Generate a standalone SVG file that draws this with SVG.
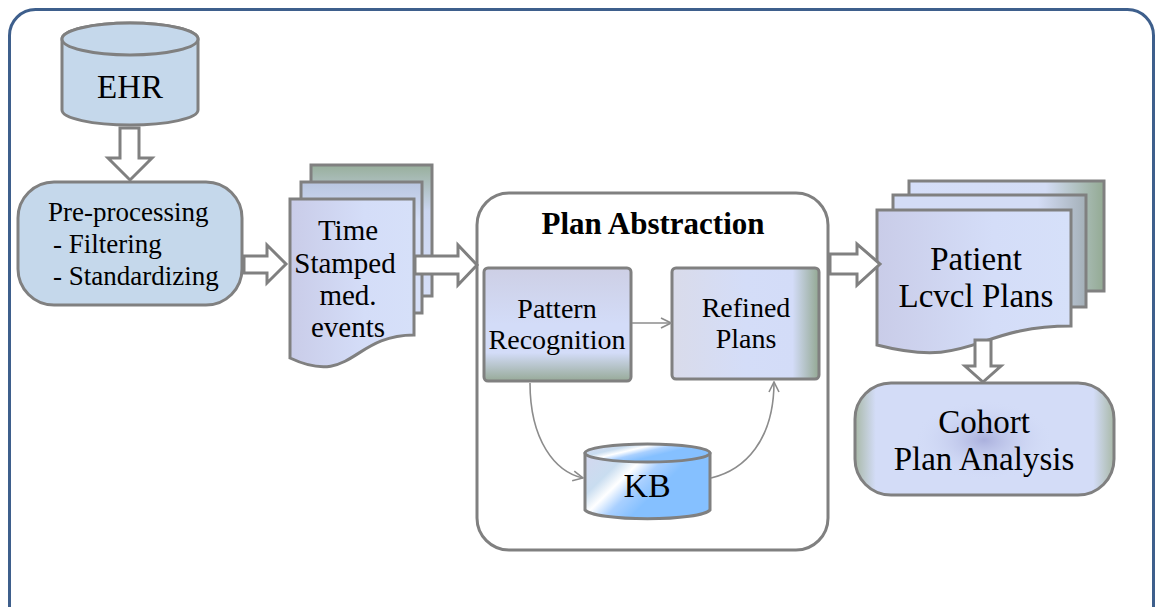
<svg xmlns="http://www.w3.org/2000/svg" width="1156" height="607" viewBox="0 0 1156 607">
<defs>
<style>
.t{font-family:"Liberation Serif","Times New Roman",serif;fill:#000;text-anchor:middle}
.box{stroke:#808080;stroke-width:3}
.hol{fill:#fff;stroke:#808080;stroke-width:3;stroke-linejoin:miter}
.thin{fill:none;stroke:#8c8c8c;stroke-width:1.6}
</style>
<linearGradient id="gBack" x1="0" y1="0" x2="0" y2="1"><stop offset="0" stop-color="#98AF9C"/><stop offset="0.35" stop-color="#CBD6F0"/><stop offset="1" stop-color="#D6DFF8"/></linearGradient>
<linearGradient id="gMid" x1="0" y1="0" x2="0" y2="1"><stop offset="0" stop-color="#B9C6E0"/><stop offset="0.3" stop-color="#D5DFF8"/><stop offset="1" stop-color="#D6DFF8"/></linearGradient>
<linearGradient id="gFront" x1="0" y1="0" x2="1" y2="0"><stop offset="0" stop-color="#C9CCE8"/><stop offset="0.6" stop-color="#D4DDF8"/><stop offset="1" stop-color="#D6E0F9"/></linearGradient>
<linearGradient id="gPat" x1="0" y1="0" x2="0" y2="1"><stop offset="0" stop-color="#CDCFE5"/><stop offset="0.5" stop-color="#D3DCF8"/><stop offset="0.75" stop-color="#D3DCF8"/><stop offset="1" stop-color="#97AA98"/></linearGradient>
<linearGradient id="gRef" x1="0" y1="0" x2="1" y2="0"><stop offset="0" stop-color="#D9DBEA"/><stop offset="0.5" stop-color="#D4DDF8"/><stop offset="0.82" stop-color="#D3DCF8"/><stop offset="1" stop-color="#93A892"/></linearGradient>
<linearGradient id="gPBack" x1="0" y1="0" x2="1" y2="0"><stop offset="0" stop-color="#D5DEF8"/><stop offset="0.7" stop-color="#D3DCF5"/><stop offset="1" stop-color="#93AA93"/></linearGradient>
<linearGradient id="gPMid" x1="0" y1="0" x2="1" y2="0"><stop offset="0" stop-color="#D3DCF6"/><stop offset="0.75" stop-color="#D3DCF5"/><stop offset="1" stop-color="#A4B0B8"/></linearGradient>
<linearGradient id="gKB" x1="0" y1="0" x2="1" y2="0.6"><stop offset="0" stop-color="#D6D6EE"/><stop offset="0.3" stop-color="#C9DDF0"/><stop offset="0.42" stop-color="#FFFFFF"/><stop offset="0.55" stop-color="#A9D0FF"/><stop offset="0.7" stop-color="#85C0FF"/><stop offset="1" stop-color="#85C0FF"/></linearGradient>
<linearGradient id="gCoh" x1="0" y1="0" x2="1" y2="0"><stop offset="0" stop-color="#A9B9A8"/><stop offset="0.08" stop-color="#D3DCF7"/><stop offset="0.92" stop-color="#D3DCF7"/><stop offset="1" stop-color="#A9B9A8"/></linearGradient>
<radialGradient id="gCohC" cx="0.5" cy="0.5" r="0.5"><stop offset="0" stop-color="#AAB0DD"/><stop offset="1" stop-color="#D3DCF7" stop-opacity="0"/></radialGradient>
<marker id="ah" viewBox="0 0 12 12" refX="11" refY="6" markerWidth="12" markerHeight="12" markerUnits="userSpaceOnUse" orient="auto"><path d="M1,1 L11,6 L1,11" fill="none" stroke="#8c8c8c" stroke-width="1.6"/></marker>
</defs>
<rect width="1156" height="607" fill="#fff"/>
<rect id="frame" x="9.5" y="9.5" width="1144" height="640" rx="26" fill="#fff" stroke="#3E5F8C" stroke-width="3"/>

<g id="planabstraction">
<rect class="box" x="477" y="193" width="351" height="357" rx="32" fill="#fff"/>
<text class="t" x="653" y="234" font-size="31" font-weight="bold">Plan Abstraction</text>
</g>

<g id="ehr">
<path class="box" fill="#C5D8EB" d="M62,39 L62,110 A68,15 0 0 0 198,110 L198,39 A68,16 0 0 0 62,39 Z"/>
<ellipse class="box" cx="130" cy="39" rx="68" ry="16" fill="#C5D8EB"/>
<text class="t" x="130" y="98" font-size="33">EHR</text>
</g>

<g id="preprocessing">
<rect class="box" x="18" y="182" width="224" height="123" rx="36" fill="#C5D8EB"/>
<text class="t" x="48" y="221" font-size="27" style="text-anchor:start">Pre-processing</text>
<text class="t" x="53" y="253" font-size="27" style="text-anchor:start">- Filtering</text>
<text class="t" x="53" y="285" font-size="27" style="text-anchor:start">- Standardizing</text>
</g>

<g id="timestamped">
<rect class="box" x="311" y="165" width="121" height="131" fill="url(#gBack)"/>
<rect class="box" x="301" y="182" width="121" height="131" fill="url(#gMid)"/>
<path class="box" fill="url(#gFront)" d="M290,199 L414,199 L414,335 C352,335 352,387 290,358 Z"/>
<text class="t" x="348" y="240" font-size="29">Time</text>
<text class="t" x="345" y="273" font-size="29">Stamped</text>
<text class="t" x="348" y="305" font-size="29">med.</text>
<text class="t" x="348" y="337" font-size="29">events</text>
</g>

<g id="pattern">
<rect class="box" x="484" y="268" width="147" height="113" rx="4" fill="url(#gPat)"/>
<text class="t" x="557" y="318" font-size="28">Pattern</text>
<text class="t" x="557" y="349" font-size="28">Recognition</text>
</g>

<g id="refined">
<rect class="box" x="672" y="268" width="147" height="111" rx="4" fill="url(#gRef)"/>
<text class="t" x="746" y="317" font-size="28">Refined</text>
<text class="t" x="746" y="348" font-size="28">Plans</text>
</g>

<g id="kb">
<path class="box" fill="url(#gKB)" d="M585,453 L585,510 A63,10 0 0 0 710,510 L710,453 A63,9 0 0 0 585,453 Z"/>
<ellipse class="box" cx="647.5" cy="453" rx="62.5" ry="9" fill="url(#gKB)"/>
<text class="t" x="647" y="497" font-size="34">KB</text>
</g>

<g id="patientplans">
<rect class="box" x="909" y="181" width="195" height="110" fill="url(#gPBack)"/>
<rect class="box" x="893" y="195" width="193" height="112" fill="url(#gPMid)"/>
<path class="box" fill="url(#gFront)" d="M877,210 L1071,210 L1071,326 C974,326 974,370 877,345 Z"/>
<text class="t" x="976" y="270" font-size="33">Patient</text>
<text class="t" x="976" y="307" font-size="33">Lcvcl Plans</text>
</g>

<g id="cohort">
<rect class="box" x="855" y="383" width="259" height="112" rx="36" fill="url(#gCoh)"/>
<ellipse cx="984" cy="440" rx="70" ry="40" fill="url(#gCohC)"/>
<text class="t" x="984" y="433" font-size="33">Cohort</text>
<text class="t" x="984" y="470" font-size="33">Plan Analysis</text>
</g>

<g id="connectors">
<polygon class="hol" points="120,128 139,128 139,158 152,158 130,180 108,158 120,158"/>
<polygon class="hol" points="244,256 267,256 267,245 286,264 267,283 267,273 244,273"/>
<polygon class="hol" points="415,256 458,256 458,245 477,265 458,285 458,274 415,274"/>
<polygon class="hol" points="830,254 857,254 857,244 880,264 857,285 857,274 830,274"/>
<polygon class="hol" points="975,340 991,340 991,366 1001,366 983,382 965,366 975,366"/>
<path class="thin" d="M632,323 L671,323" marker-end="url(#ah)"/>
<path class="thin" d="M530,383 C530,440 555,472 583,478" marker-end="url(#ah)"/>
<path class="thin" d="M711,478 C745,470 774,440 774,382" marker-end="url(#ah)"/>
</g>
</svg>
